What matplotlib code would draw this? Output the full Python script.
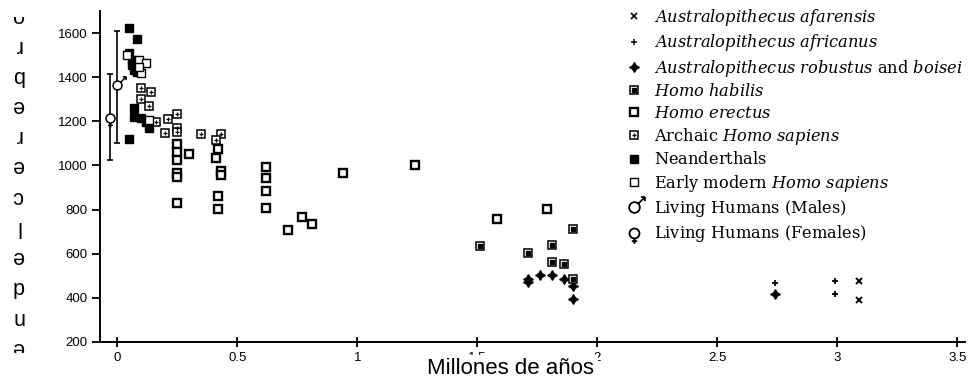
import numpy as np
import matplotlib
matplotlib.use("Agg")
import matplotlib.pyplot as plt
from matplotlib.lines import Line2D
from matplotlib.path import Path
from matplotlib.transforms import Bbox, TransformedBbox

plt.rcParams['font.family'] = ['Liberation Sans', 'DejaVu Sans']
plt.rcParams['mathtext.fontset'] = 'dejavuserif'

# ---- data: age (millions of years) vs cranial capacity (cc) ----
afarensis_age = [3.09, 3.09]
afarensis_cc = [478, 390]

africanus_age = [2.74, 2.99, 2.99]
africanus_cc = [466, 478, 419]

robustus_age = [1.71, 1.71, 1.76, 1.81, 1.86, 1.90, 1.90, 2.74]
robustus_cc = [484, 472, 505, 505, 487, 455, 395, 416]

habilis_age = [1.51, 1.71, 1.81, 1.81, 1.86, 1.90, 1.90]
habilis_cc = [635, 602, 640, 562, 552, 711, 484]

erectus_age = [0.25, 0.25, 0.25, 0.25, 0.25, 0.25, 0.30, 0.42, 0.41, 0.43,
               0.43, 0.42, 0.42, 0.62, 0.62, 0.62, 0.62, 0.71, 0.77, 0.81,
               0.94, 1.24, 1.58, 1.79]
erectus_cc = [1099, 1062, 1025, 967, 949, 828, 1050, 1073, 1032, 976,
              957, 862, 804, 994, 942, 885, 806, 707, 768, 735,
              964, 1003, 757, 803]

archaic_age = [0.10, 0.14, 0.10, 0.13, 0.16, 0.21, 0.20, 0.25, 0.25, 0.25,
               0.35, 0.43, 0.41]
archaic_cc = [1350, 1334, 1301, 1271, 1198, 1210, 1146, 1232, 1168, 1150,
              1141, 1142, 1115]

neander_age = [0.05, 0.08, 0.05, 0.06, 0.06, 0.07, 0.08, 0.07, 0.07, 0.10,
               0.12, 0.13, 0.05]
neander_cc = [1625, 1575, 1510, 1480, 1455, 1432, 1425, 1260, 1220, 1213,
              1198, 1168, 1120]

modern_age = [0.04, 0.09, 0.12, 0.10, 0.09, 0.13]
modern_cc = [1500, 1480, 1465, 1420, 1447, 1205]

# living humans: mean and range
female_age, female_cc, female_lo, female_hi = -0.03, 1214, 1025, 1413
male_age, male_cc, male_lo, male_hi = 0.0, 1364, 1102, 1610

legend_labels = [
    r"$\mathit{Australopithecus\ afarensis}$",
    r"$\mathit{Australopithecus\ africanus}$",
    r"$\mathit{Australopithecus\ robustus}$ and $\mathit{boisei}$",
    r"$\mathit{Homo\ habilis}$",
    r"$\mathit{Homo\ erectus}$",
    r"Archaic $\mathit{Homo\ sapiens}$",
    r"Neanderthals$\,$",
    r"Early modern $\mathit{Homo\ sapiens}$",
    r"Living Humans (Males)$\,$",
    r"Living Humans (Females)$\,$",
]

xticks = [0, 0.5, 1, 1.5, 2, 2.5, 3, 3.5]
xticklabels = ["0", "0.5", "1", "1.5", "2", "2.5", "3", "3.5"]
yticks = [200, 400, 600, 800, 1000, 1200, 1400, 1600]

xlabel = "Millones de años"
ylabel = "Volumen del cerebro"


def male_path():
    circ = Path.circle((0, 0), 1.0)
    tip = 1.95
    stem = Path([(0.71, 0.71), (tip, tip), (tip, tip), (tip - 0.75, tip),
                 (tip, tip), (tip, tip - 0.75)],
                [Path.MOVETO, Path.LINETO, Path.MOVETO, Path.LINETO,
                 Path.MOVETO, Path.LINETO])
    return Path.make_compound_path(circ, stem)


def female_path():
    circ = Path.circle((0, 0), 1.0)
    stem = Path([(0, -1.0), (0, -2.1), (-0.55, -1.55), (0.55, -1.55)],
                [Path.MOVETO, Path.LINETO, Path.MOVETO, Path.LINETO])
    return Path.make_compound_path(circ, stem)


W, H = 970, 381
fig = plt.figure(figsize=(W / 100, H / 100), dpi=100)
ax = fig.add_axes([100 / W, 1 - 342 / H, (964.7 - 100) / W, (342 - 11) / H])

k = 'black'
ms = 5.2
sq = dict(ls='none', marker='s', ms=ms, mfc='white', mec=k, clip_on=False)

ax.plot(afarensis_age, afarensis_cc, ls='none', marker='x', ms=4.5, mew=1.4, color=k)
ax.plot(africanus_age, africanus_cc, ls='none', marker='+', ms=5, mew=1.3, color=k)
ax.plot(robustus_age, robustus_cc, ls='none', marker=(4, 1, 0), ms=7, color=k)

ax.plot(habilis_age, habilis_cc, mew=1.1, **sq)
ax.plot(habilis_age, habilis_cc, ls='none', marker='s', ms=2.2, color=k)
ax.plot(erectus_age, erectus_cc, mew=1.7, **sq)
ax.plot(archaic_age, archaic_cc, mew=1.1, **sq)
ax.plot(archaic_age, archaic_cc, ls='none', marker='+', ms=3.4, mew=0.9, color=k)
ax.plot(neander_age, neander_cc, ls='none', marker='s', ms=ms, color=k)
ax.plot(modern_age, modern_cc, mew=1.0, **sq)

ax.errorbar([female_age], [female_cc],
            yerr=[[female_cc - female_lo], [female_hi - female_cc]],
            fmt='none', ecolor=k, elinewidth=1.2, capsize=2.2, capthick=1.2)
ax.errorbar([male_age], [male_cc],
            yerr=[[male_cc - male_lo], [male_hi - male_cc]],
            fmt='none', ecolor=k, elinewidth=1.2, capsize=2.2, capthick=1.2)
ax.plot([female_age], [female_cc], ls='none', marker=female_path(), ms=13.5,
        mfc='white', mec=k, mew=1.1, zorder=4)
ax.plot([male_age], [male_cc], ls='none', marker=male_path(), ms=12.5,
        mfc='white', mec=k, mew=1.1, zorder=4)

ax.set_xlim((100 - 117.5) / 240, (964.7 - 117.5) / 240)
ax.set_ylim(200, 1700)
ax.set_xticks(xticks)
ax.set_xticklabels(xticklabels)
ax.set_yticks(yticks)
for s in ['top', 'right']:
    ax.spines[s].set_visible(False)
for s in ['left', 'bottom']:
    ax.spines[s].set_linewidth(1.4)
ax.tick_params(axis='y', direction='out', length=6, width=1.3, pad=3, labelsize=9.5)
ax.tick_params(axis='x', direction='inout', length=7, width=1.3, pad=4, labelsize=9.5)

# legend
handles = [
    Line2D([], [], ls='none', marker='x', ms=4.5, mew=1.2, color=k),
    Line2D([], [], ls='none', marker='+', ms=5, mew=1.1, color=k),
    Line2D([], [], ls='none', marker=(4, 1, 0), ms=7, color=k),
    (Line2D([], [], mew=1.1, **sq), Line2D([], [], ls='none', marker='s', ms=2.2, color=k)),
    Line2D([], [], mew=1.7, **sq),
    (Line2D([], [], mew=1.1, **sq), Line2D([], [], ls='none', marker='+', ms=3.4, mew=0.9, color=k)),
    Line2D([], [], ls='none', marker='s', ms=ms, color=k),
    Line2D([], [], mew=1.0, **sq),
    Line2D([], [], ls='none', marker=male_path(), ms=15, mfc='white', mec=k, mew=1.3),
    Line2D([], [], ls='none', marker=female_path(), ms=15, mfc='white', mec=k, mew=1.3),
]
fig.legend(handles, legend_labels, loc='upper left',
           bbox_to_anchor=(626 / W, 1 - 7 / H), bbox_transform=fig.transFigure,
           frameon=False, borderpad=0, borderaxespad=0, handlelength=0.95,
           handletextpad=0.8, labelspacing=0.27,
           prop={'family': 'DejaVu Serif', 'size': 11.7})

# x label (white box hides most of the tick labels, like the original)
fig.text(511 / W, 1 - 369 / H, xlabel, ha='center', va='center', fontsize=16,
         bbox=dict(facecolor='white', edgecolor='none', pad=2.5), zorder=10)

# y label: stacked letters, turned upside down, clipped at both ends
letters = [c for c in ylabel if c != ' '][::-1]
clip = TransformedBbox(Bbox.from_extents(0, 28 / H, 45 / W, (H - 17) / H), fig.transFigure)
for i, c in enumerate(letters):
    ypix = 15 + 30.2 * i
    if ypix > H - 25:
        break
    t = fig.text(18 / W, 1 - ypix / H, c, rotation=180,
                 ha='center', va='center', fontsize=15.5)
    t.set_clip_box(clip)
    t.set_clip_on(True)

fig.savefig("out.png", dpi=100)
